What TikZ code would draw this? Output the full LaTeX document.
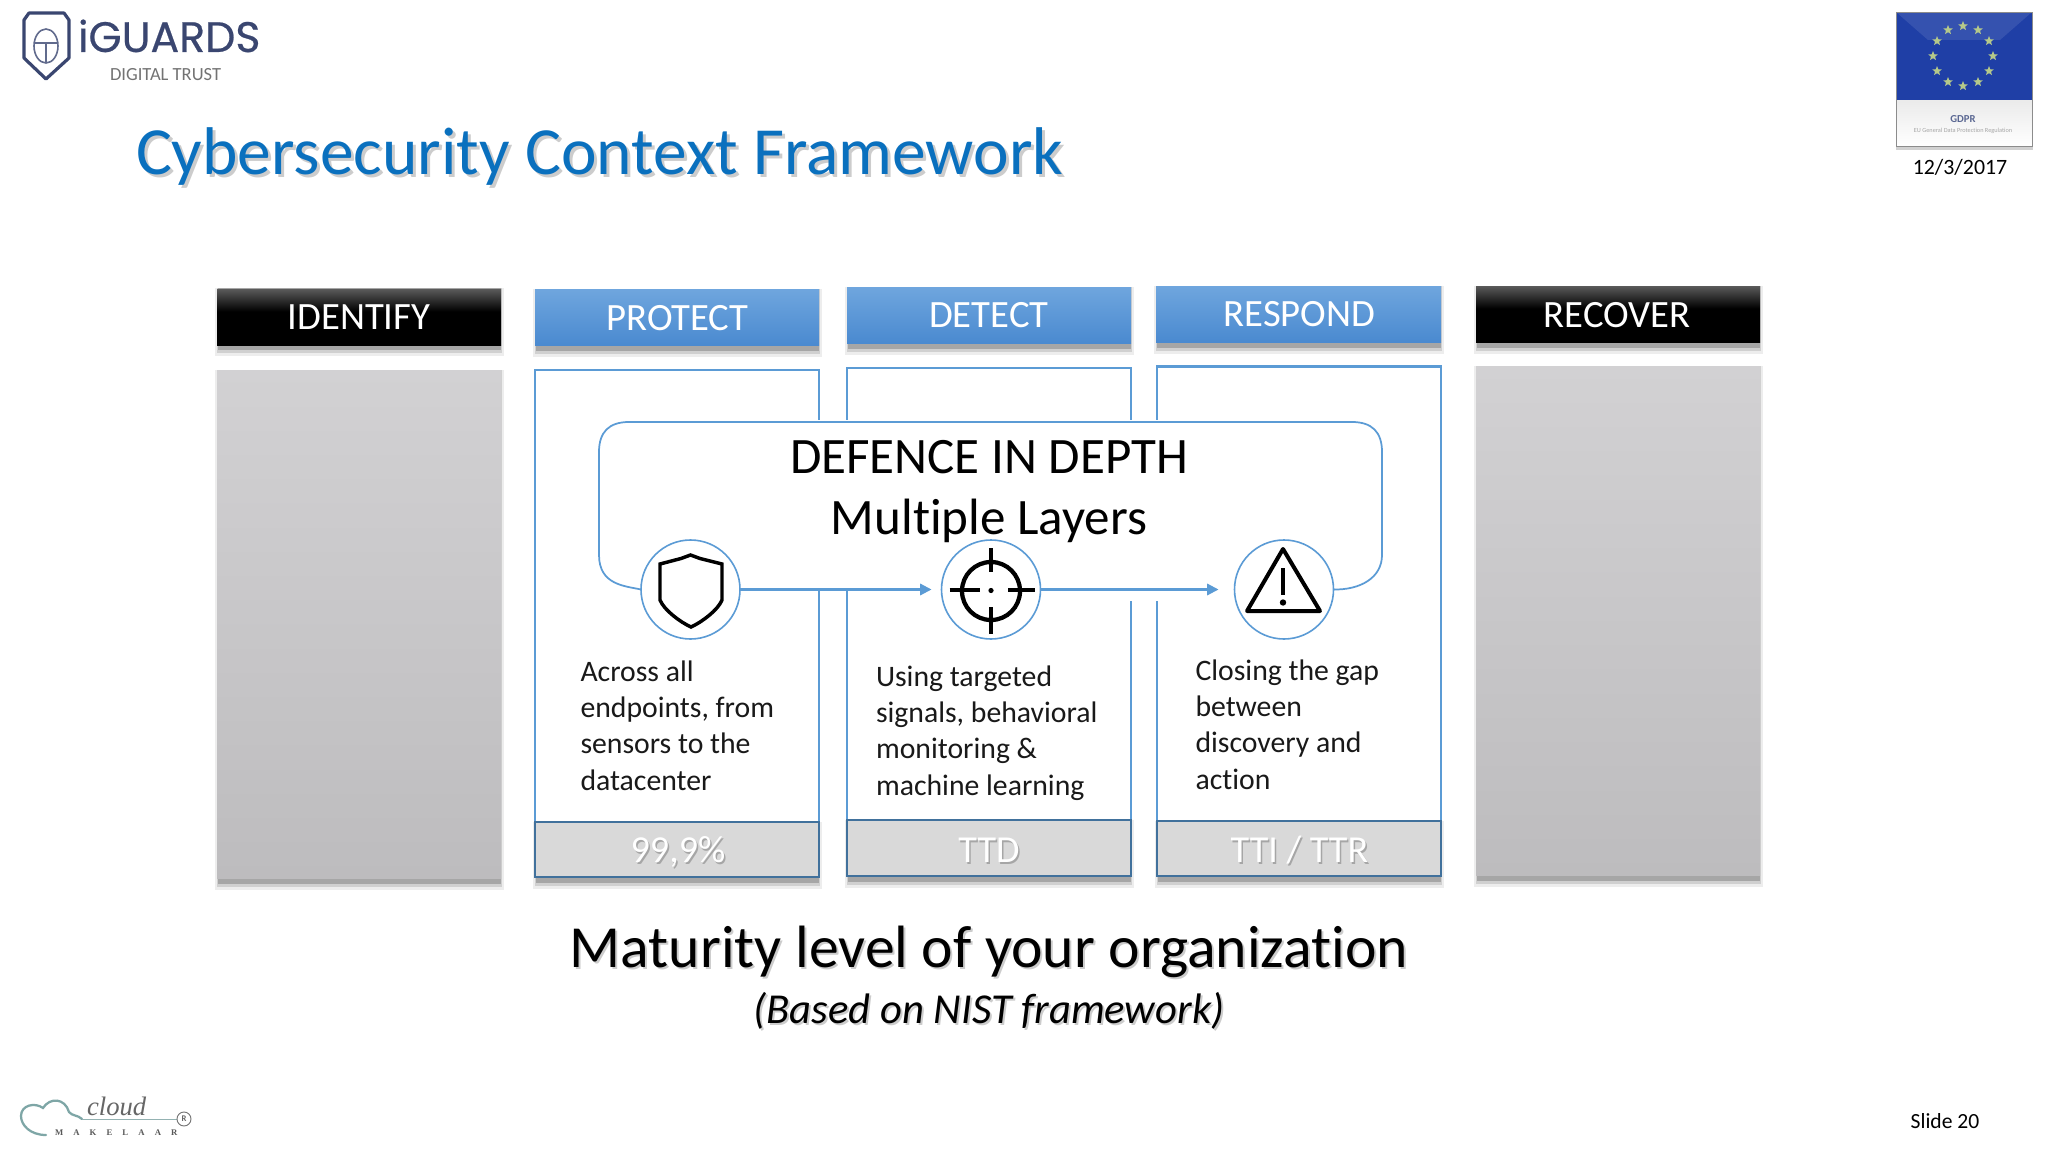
\documentclass[tikz,border=0pt]{standalone}
\usepackage{fontspec}
\setmainfont{Carlito}[Ligatures=NoCommon]
\newfontfamily\logofont{Poppins}[FakeBold=0.5]
\newfontfamily\cloudfont{Liberation Serif}
\usetikzlibrary{shapes.geometric,arrows.meta}
\definecolor{hdtop}{HTML}{6FA6DE}
\definecolor{hdbot}{HTML}{4A8AD0}
\definecolor{edge}{HTML}{5B9BD5}
\definecolor{stripedge}{HTML}{41719C}
\definecolor{titleblue}{HTML}{0A70BE}
\definecolor{navy}{HTML}{3A4670}
\definecolor{greytop}{HTML}{D2D1D3}
\definecolor{greybot}{HTML}{BDBCBE}
\definecolor{blacktop}{HTML}{5A5A5A}
\definecolor{eublue}{HTML}{1F3FA6}
\definecolor{eustar}{HTML}{B5C98A}
\pgfdeclareverticalshading{blackhead}{100bp}{color(0bp)=(black); color(55bp)=(black); color(75bp)=(blacktop); color(100bp)=(blacktop)}
\newcommand{\fsz}[1]{\fontsize{#1}{#1}\selectfont}
\newcommand{\softshadow}[4]{%
  \fill[black,opacity=.07] (#1-2,#2) rectangle (#3+3,#4+12);
  \fill[black,opacity=.12] (#1,#2) rectangle (#3+1,#4+9);
  \fill[black,opacity=.20] (#1+1,#2) rectangle (#3,#4+6);}
\tikzset{
  every node/.style={inner sep=0pt,outer sep=0pt},
  blackhead/.style={shading=blackhead,draw=none},
  bluehead/.style={top color=hdtop,bottom color=hdbot,draw=none},
  greypanel/.style={top color=greytop,bottom color=greybot,draw=none},
  whitepanel/.style={fill=white,draw=edge,line width=1.6pt},
  strip/.style={fill=black!15,draw=stripedge,line width=1.9pt},
  headtext/.style={text=white,font=\fsz{29},anchor=base},
  striptext/.style={text=white,font=\fsz{28.6},anchor=base},
  stripshadow/.style={text=black!45,font=\fsz{28.6},anchor=base,opacity=.65},
  bodytext/.style={align=left,anchor=north west,font=\fontsize{22.3}{27.1}\selectfont,text=black!90},
  icon/.style={circle,draw=edge,fill=white,line width=1.2pt,minimum size=99*0.75pt},
  flow/.style={draw=edge,line width=1.6pt,-{Triangle[length=8.5pt,width=8.5pt]}},
  texshadow/.style={opacity=.2,text=black},
}
\begin{document}
\begin{tikzpicture}[x=0.75pt,y=-0.75pt]
\useasboundingbox (0,0) rectangle (2048,1152);
\fill[white] (0,0) rectangle (2048,1152);

% iGUARDS logo
\draw[navy,line width=2.4pt,line join=round] (29,13) -- (64,13) -- (69,20) -- (69,58) -- (46,79) -- (24,58) -- (24,20) -- cycle;
\draw[navy!80,line width=1.2pt] (46,46) ellipse (12 and 17);
\draw[navy!80,line width=1.2pt] (34,43) -- (58,43) (46,43) -- (46,63);
\node[anchor=base west,text=navy,font=\logofont\fsz{32}] (iguards) at (78,52) {iGUARDS};
\node[anchor=base west,text=black!55,font=\fsz{13.9}] (trust) at (110,80.5) {DIGITAL TRUST};

% title
\node[anchor=base west,texshadow,font=\fsz{50.6}] (titles) at (139,177) {Cybersecurity Context Framework};
\node[anchor=base west,text=titleblue,font=\fsz{50.6}] (title) at (136,174.5) {Cybersecurity Context Framework};

% GDPR badge
\fill[black,opacity=.18] (1896,14) rectangle (2033,150);
\fill[white] (1896,12) rectangle (2032,146);
\shade[top color=black!8,bottom color=white] (1896,100) rectangle (2032,146);
\fill[eublue] (1896,12) rectangle (2032,100);
\fill[white,opacity=.10] (1896,12) -- (2032,12) -- (2000,40) -- (1928,40) -- cycle;
\draw[black!45,line width=.6pt] (1896,12) rectangle (2032,146);
\foreach \i in {0,...,11} {
  \node[star,star points=5,star point ratio=2.3,fill=eustar,minimum size=7.5pt] (s\i) at ({1963+30*cos(\i*30)},{56+30*sin(\i*30)}) {};
}
\node[text=eublue!60!black!70,font=\bfseries\fsz{8}] (gdpr) at (1963,119) {GDPR};
\node[text=black!35,font=\fsz{4.7}] (gdprsub) at (1963,130.5) {EU General Data Protection Regulation};
\node[anchor=base,font=\fsz{16.4},text=black] (date) at (1960,175) {12/3/2017};

% header bars
\softshadow{217}{288}{501}{344}
\softshadow{535}{289}{819}{345}
\softshadow{847}{287}{1131}{343}
\softshadow{1156}{286}{1441}{342}
\softshadow{1476}{286}{1760}{342}
\path[blackhead] (217,289) rectangle (501,345);
\path[bluehead] (535,289) rectangle (819,345);
\path[bluehead] (847,287) rectangle (1131,343);
\path[bluehead] (1156,286) rectangle (1441,342);
\path[blackhead] (1476,286) rectangle (1760,342);
\node[headtext] (hid) at (359,329) {IDENTIFY};
\node[headtext] (hpr) at (677.5,330) {PROTECT};
\node[headtext] (hde) at (989,327.5) {DETECT};
\node[headtext] (hre) at (1299.5,326.5) {RESPOND};
\node[headtext] (hrc) at (1617,327) {RECOVER};

% grey panels
\softshadow{217}{370}{501}{878}
\softshadow{1476}{366}{1760}{875}
\path[greypanel] (217,370) rectangle (501,878);
\path[greypanel] (1476,366) rectangle (1760,875);

% white panels with bottom strips
\softshadow{535}{822}{819}{877}
\softshadow{847}{820}{1131}{876}
\softshadow{1157}{821}{1441}{876}
\draw[whitepanel] (535,370) rectangle (819,822);
\draw[whitepanel] (847,368) rectangle (1131,820);
\draw[whitepanel] (1157,366.5) rectangle (1441,821);
\draw[strip] (535,822) rectangle (819,877);
\draw[strip,line width=1.5pt] (847,820) rectangle (1131,876);
\draw[strip,line width=1.5pt] (1157,821) rectangle (1441,876);
\node[stripshadow] (a1s) at (679.5,864) {99,9\%};
\node[stripshadow] (a2s) at (990.5,864) {TTD};
\node[stripshadow] (a3s) at (1301,864) {TTI / TTR};
\node[striptext] (a1) at (678,862) {99,9\%};
\node[striptext] (a2) at (989,862) {TTD};
\node[striptext] (a3) at (1299.5,862) {TTI / TTR};

% mask of the panel edges behind the layers box
\fill[white] (812,420) rectangle (854,591);
\fill[white] (1124,420) rectangle (1163,601);

% icon circles
\node[icon] (c1) at (690.5,589.5) {};
\node[icon] (c2) at (991,589.5) {};
\node[icon] (c3) at (1284,589.5) {};

% layers box
\draw[edge,line width=1.3pt] (c1.west) .. controls (625,586) and (599,585) .. (599,555) -- (599,452) .. controls (599,432) and (609,422) .. (629,422) -- (1352,422) .. controls (1372,422) and (1382,432) .. (1382,452) -- (1382,555) .. controls (1382,578) and (1360,590) .. (c3.east);
\node[anchor=base,font=\fsz{38.3}] (dd) at (989,473) {DEFENCE IN DEPTH};
\node[anchor=base,font=\fsz{38.3}] (ml) at (989,534) {Multiple Layers};

% flow arrows
\draw[flow,shorten >=7.5pt] (c1) -- (c2);
\draw[flow,shorten >=12pt] (c2) -- (c3);

% shield icon
\draw[black,line width=2.6pt,line join=miter,fill=white] (690.5,555) -- (700,558.5) -- (722,564) -- (722,600) .. controls (718,610) and (702,622) .. (691,627) .. controls (680,622) and (664,610) .. (660,600) -- (660,564) -- (681,558.5) -- cycle;

% crosshair icon
\draw[black,line width=3.2pt] (991,591) circle (29);
\draw[black,line width=3.6pt] (991,548) -- (991,572) (991,607) -- (991,634) (949.5,590) -- (980,590) (1008,590) -- (1035,590);
\fill[black] (991,590.5) circle (2.6);

% warning icon
\draw[black,line width=3pt,line join=round] (1283,549) -- (1320,611) -- (1247,611) -- cycle;
\draw[black,line width=3.6pt] (1283,568) -- (1283,595);
\fill[black] (1283,602.5) circle (3.2);

% body text
\node[bodytext] (t1) at (580.5,661) {Across all\\endpoints, from\\sensors to the\\datacenter};
\node[bodytext] (t2) at (876,666) {Using targeted\\signals, behavioral\\monitoring \&\\machine learning};
\node[bodytext] (t3) at (1195.5,660) {Closing the gap\\between\\discovery and\\action};

% footer captions
\node[anchor=base,texshadow,font=\fsz{44.8}] (mats) at (991,969) {Maturity level of your organization};
\node[anchor=base,font=\fsz{44.8}] (mat) at (989,967) {Maturity level of your organization};
\node[anchor=base,texshadow,font=\itshape\fsz{32}] (nists) at (991,1025) {(Based on NIST framework)};
\node[anchor=base,font=\itshape\fsz{32}] (nist) at (989,1023) {(Based on NIST framework)};

% cloud makelaar logo
\draw[teal!45!gray!70,line width=1.7pt,line cap=round] (46,1135) .. controls (30,1135) and (21,1125) .. (21,1116) .. controls (21,1105) and (35,1102) .. (43,1108) .. controls (50,1097) and (65,1098) .. (69,1112) .. controls (72,1116) and (78,1115) .. (82,1119);
\draw[teal!40!gray!60,line width=1.2pt] (82,1119.5) -- (177,1119.5);
\node[anchor=base west,text=black!60,font=\cloudfont\itshape\fsz{20}] (cloud) at (87,1115) {cloud};
\node[anchor=base west,text=black!65,font=\cloudfont\bfseries\fsz{6.5}] (mak) at (55,1135) {M\hspace{7.6pt}A\hspace{7.6pt}K\hspace{7.6pt}E\hspace{7.6pt}L\hspace{7.6pt}A\hspace{7.6pt}A\hspace{7.6pt}R};
\node[circle,draw=black!55,line width=.7pt,minimum size=10.5pt,font=\bfseries\fsz{6.5},text=black!60] (reg) at (184,1119) {R};

\node[anchor=base,font=\fsz{16.2},text=black] (slide) at (1945,1128.5) {Slide 20};
\end{tikzpicture}
\end{document}
